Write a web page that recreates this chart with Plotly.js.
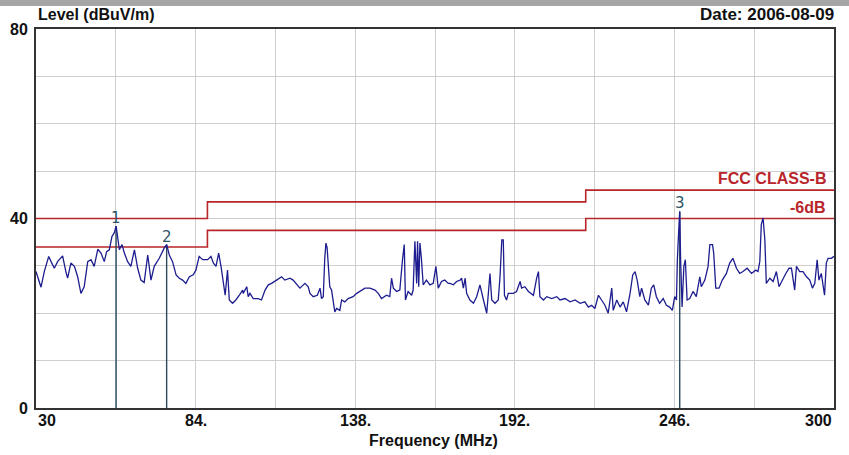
<!DOCTYPE html>
<html>
<head>
<meta charset="utf-8">
<script src="https://cdn.plot.ly/plotly-3.0.1.min.js"></script>
<style>html,body{margin:0;padding:0;background:#fff;}#chart{width:849px;height:455px;}</style>
</head>
<body>
<div id="chart"></div>
<script>
// Measured spectrum (MHz, dBuV/m)
const freq = [30.0,31.1,31.7,32.8,34.3,35.1,36.2,37.3,39.0,40.1,40.7,41.8,43.0,44.1,45.2,46.3,47.5,48.6,49.7,50.9,52.0,53.1,53.9,54.8,55.7,56.5,57.1,57.6,58.2,59.1,59.9,61.0,62.1,63.3,64.4,65.5,66.6,67.8,68.9,70.0,71.7,73.4,74.2,75.1,76.2,77.4,78.5,79.6,80.7,81.9,83.2,84.1,85.2,86.4,88.1,89.2,90.0,90.9,91.8,92.6,93.4,94.0,94.8,95.4,96.5,97.6,98.8,99.9,
100.1,101.3,101.8,102.4,103.5,105.2,106.3,107.5,108.6,109.7,111.4,113.1,114.2,115.9,117.0,118.2,119.3,121.0,122.1,122.7,123.8,125.2,126.1,126.6,127.2,127.7,128.1,128.5,128.9,129.4,130.0,130.6,131.1,131.7,132.8,133.4,134.5,135.6,137.3,138.5,139.6,141.3,143.0,144.7,145.8,146.9,148.6,149.7,150.3,150.9,152.0,153.1,154.0,154.6,155.0,155.9,157.1,157.6,158.2,158.8,159.1,159.5,159.9,160.4,161.0,162.1,163.3,164.4,165.3,166.1,167.2,168.3,169.5,
170.1,171.2,172.3,173.5,174.0,174.6,175.2,175.7,176.8,178.0,179.1,180.2,180.8,181.4,182.5,183.0,183.6,184.2,185.3,186.4,187.0,187.6,188.1,188.5,189.2,189.8,191.5,192.6,193.8,194.3,195.4,196.6,198.3,199.4,200.0,200.5,201.7,202.8,204.5,206.2,207.3,209.0,210.7,212.4,214.1,215.7,216.9,218.0,219.1,220.3,221.4,222.5,223.6,224.8,225.3,226.5,227.6,228.7,229.8,231.0,231.9,232.7,233.4,234.3,234.9,236.0,237.2,
238.2,239.0,239.9,241.0,242.2,243.3,244.4,245.3,246.1,246.7,247.0,247.5,247.8,248.1,248.6,249.2,249.7,250.3,251.2,252.3,253.4,254.6,255.1,256.3,257.4,258.0,258.9,259.3,260.0,261.1,262.2,263.6,264.7,265.8,267.0,268.1,269.2,270.6,272.1,273.5,274.3,274.9,275.4,276.0,276.6,277.1,278.3,279.4,280.5,281.4,282.5,283.7,284.8,285.6,286.7,287.3,288.4,289.5,290.7,291.8,292.7,293.5,294.3,294.9,295.7,296.8,297.4,298.0,299.1,300.0];
const level = [28.8,26.3,25.5,28.8,32.0,30.9,29.5,30.9,32.1,28.8,27.4,30.6,29.9,27.7,24.2,25.6,30.9,31.3,29.9,33.5,32.7,30.9,33.0,33.4,36.2,37.0,38.4,36.2,33.4,34.5,32.7,30.9,29.9,33.4,29.5,27.0,26.5,32.3,27.0,29.9,31.6,33.8,34.5,32.3,30.9,28.1,27.4,27.0,26.3,27.7,28.1,29.1,32.0,31.3,31.3,32.0,30.6,29.9,32.7,29.9,26.3,23.8,29.1,22.8,22.1,22.8,23.8,24.9,
24.2,25.6,23.5,24.2,23.1,23.1,22.8,24.9,26.0,26.3,27.0,27.7,27.0,27.4,27.0,26.0,25.3,26.3,25.6,24.2,23.5,23.8,25.3,23.1,23.5,31.6,34.8,33.8,29.9,25.6,24.9,21.7,20.3,21.0,20.6,22.8,22.4,23.1,23.5,24.2,24.6,25.3,25.3,24.9,24.2,23.1,23.8,23.5,27.4,25.3,24.6,24.9,31.3,34.5,22.8,24.6,23.8,24.9,35.2,26.3,35.2,25.6,34.8,31.6,26.0,27.0,26.0,26.3,29.9,25.3,26.7,27.0,26.3,
26.3,26.0,26.7,27.0,27.4,25.3,27.4,24.2,22.8,22.1,23.5,26.0,24.6,22.8,20.0,23.5,28.4,22.8,22.1,22.8,27.7,35.5,35.5,23.8,22.8,24.2,24.2,24.6,26.7,25.3,25.6,24.6,23.8,27.4,28.8,23.5,22.8,23.5,23.1,23.5,22.8,23.1,22.4,22.8,22.1,22.4,21.3,21.7,21.0,23.8,22.8,21.7,20.0,25.3,20.6,22.8,21.3,22.4,20.3,24.2,28.1,28.8,27.0,23.5,25.3,22.8,21.7,
25.3,26.0,23.5,22.1,23.1,21.7,21.3,20.6,23.5,22.8,31.3,38.0,41.5,31.3,21.3,29.9,31.3,22.8,23.1,24.6,23.5,27.7,25.6,27.0,29.9,34.5,34.5,32.7,25.3,25.3,27.0,28.4,30.6,31.6,29.5,28.4,28.8,29.5,28.4,29.1,28.8,31.0,38.7,40.1,35.5,26.3,27.4,26.7,28.8,25.6,27.0,28.4,29.5,29.5,24.9,29.9,28.8,28.8,27.7,27.0,25.3,26.3,31.3,27.0,28.4,23.8,30.6,31.6,31.6,32.0];

// Limit lines (step)
const limitFreq = [30, 88, 216, 300];
const limitClassB = [40, 43.5, 46, 46];
const limitMinus6 = [34, 37.5, 40, 40];

// Markers
const markerNames = ['1', '2', '3'];
const markerFreq = [57.1, 74.2, 247.8];
const markerLevel = [38.4, 34.5, 41.5];

// Axis ticks
const xTickVals = [30,57,84,111,138,165,192,219,246,273,300];
const xLabelVals = [30, 84, 138, 192, 246, 300];
const xLabelText = ['30', '84.', '138.', '192.', '246.', '300'];
const yTickVals = [0,10,20,30,40,50,60,70,80];
const yTickText = ['0','','','','40','','','','80'];

const SANS = 'Liberation Sans, Arial, sans-serif';
const traces = [];
traces.push({x: limitFreq, y: limitClassB, mode: 'lines', line: {shape: 'hv', color: '#b8262b', width: 1.6}, hoverinfo: 'skip'});
traces.push({x: limitFreq, y: limitMinus6, mode: 'lines', line: {shape: 'hv', color: '#b8262b', width: 1.6}, hoverinfo: 'skip'});
markerFreq.forEach((f, i) => {
  traces.push({x: [f, f], y: [0, markerLevel[i]], mode: 'lines', line: {color: '#2a4a60', width: 1.4}, hoverinfo: 'skip'});
});
traces.push({x: freq, y: level, mode: 'lines', line: {color: '#1d1d8f', width: 1.3}, hoverinfo: 'skip'});

const annotations = [
  {xref: 'paper', yref: 'paper', x: 0, y: 1.0, yshift: 15, xanchor: 'left', yanchor: 'middle', showarrow: false,
   text: '<b>Level (dBuV/m)</b>', font: {family: SANS, size: 16, color: '#111'}},
  {xref: 'paper', yref: 'paper', x: 1.002, y: 1.0, yshift: 15, xanchor: 'right', yanchor: 'middle', showarrow: false,
   text: '<b>Date: 2006-08-09</b>', font: {family: SANS, size: 17, color: '#111'}},
  {xref: 'paper', yref: 'y', x: 0.992, y: limitClassB[2], yshift: 12, xanchor: 'right', yanchor: 'middle', showarrow: false,
   text: '<b>FCC CLASS-B</b>', font: {family: SANS, size: 16, color: '#b8262b'}},
  {xref: 'paper', yref: 'y', x: 0.992, y: limitMinus6[2], yshift: 11, xanchor: 'right', yanchor: 'middle', showarrow: false,
   text: '<b>-6dB</b>', font: {family: SANS, size: 16, color: '#b8262b'}},
  {xref: 'paper', yref: 'paper', x: 0.498, y: 0, yshift: -32, xanchor: 'center', yanchor: 'middle', showarrow: false,
   text: '<b>Frequency (MHz)</b>', font: {family: SANS, size: 16, color: '#111'}}
];
xLabelVals.forEach((v, i) => {
  const anchor = i === 0 ? 'left' : (i === xLabelVals.length - 1 ? 'right' : 'center');
  annotations.push({x: v, xref: 'x', y: 0, yref: 'paper', yanchor: 'top', xanchor: anchor, yshift: -2, showarrow: false,
    text: '<b>' + xLabelText[i] + '</b>', font: {family: SANS, size: 16, color: '#111'}});
});
markerFreq.forEach((f, i) => {
  annotations.push({x: f, y: markerLevel[i], xref: 'x', yref: 'y', yanchor: 'bottom', xanchor: 'center', yshift: -3, showarrow: false,
    text: markerNames[i], font: {family: 'DejaVu Sans, sans-serif', size: 15, color: '#2d5566'}});
});

const layout = {
  width: 849, height: 455,
  margin: {l: 36, r: 15, t: 29, b: 47, pad: 0},
  paper_bgcolor: '#ffffff', plot_bgcolor: '#ffffff',
  showlegend: false,
  xaxis: {
    range: [30, 300], tickmode: 'array', tickvals: xTickVals, showticklabels: false,
    showgrid: true, gridcolor: '#cfcfcf', gridwidth: 1, zeroline: false,
    showline: true, mirror: true, linecolor: '#333333', linewidth: 2, ticks: ''
  },
  yaxis: {
    range: [0, 80], tickmode: 'array', tickvals: yTickVals, ticktext: yTickText,
    showgrid: true, gridcolor: '#cfcfcf', gridwidth: 1, zeroline: false,
    showline: true, mirror: true, linecolor: '#333333', linewidth: 2, ticks: '',
    ticklabelstandoff: 3,
    tickfont: {family: SANS, size: 16, color: '#111', weight: 'bold'}
  },
  shapes: [
    {type: 'rect', xref: 'paper', yref: 'paper', x0: -0.05, x1: 1.05, y0: 1 + 23/379, y1: 1 + 30/379, fillcolor: '#a6a6a6', line: {width: 0}, layer: 'above'}
  ],
  annotations: annotations
};

Plotly.newPlot('chart', traces, layout, {staticPlot: true, displayModeBar: false});
</script>
</body>
</html>
